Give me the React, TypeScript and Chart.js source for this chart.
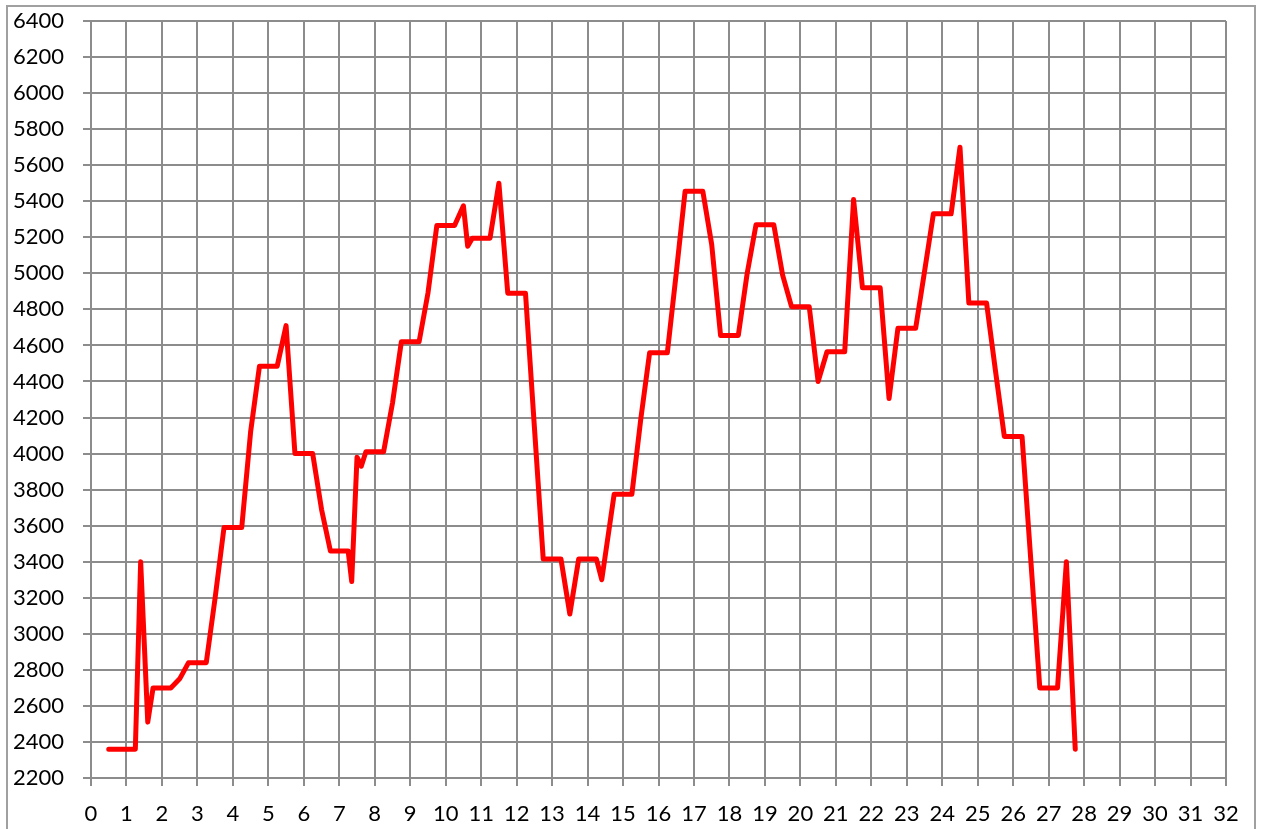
import React, { useEffect, useRef } from "react";
import { Chart, registerables } from "chart.js";

Chart.register(...registerables);

const xValues = [
  0.5, 1.25, 1.4, 1.6, 1.75, 2.25, 2.5, 2.75, 3.25, 3.5, 3.75, 4.25, 4.5, 4.75, 5.25, 5.5, 5.75, 6.25,
  6.5, 6.75, 7.25, 7.35, 7.5, 7.62, 7.75, 8.25, 8.5, 8.75, 9.25, 9.5, 9.75, 10.25, 10.5, 10.62, 10.75,
  11.25, 11.5, 11.75, 12.25, 12.5, 12.75, 13.25, 13.5, 13.75, 14.25, 14.4, 14.75, 15.25, 15.5, 15.75,
  16.25, 16.5, 16.75, 17.25, 17.5, 17.75, 18.25, 18.5, 18.75, 19.25, 19.5, 19.75, 20.25, 20.5, 20.75,
  21.25, 21.5, 21.75, 22.25, 22.5, 22.75, 23.25, 23.5, 23.75, 24.25, 24.5, 24.75, 25.25, 25.5, 25.75,
  26.25, 26.5, 26.75, 27.25, 27.5, 27.75,
];

const yValues = [
  2360, 2360, 3400, 2510, 2700, 2700, 2750, 2840, 2840, 3200, 3590, 3590, 4120, 4485, 4485, 4710, 4000, 4000,
  3690, 3460, 3460, 3290, 3980, 3930, 4010, 4010, 4280, 4620, 4620, 4890, 5265, 5265, 5375, 5150, 5195,
  5195, 5500, 4890, 4890, 4150, 3415, 3415, 3110, 3415, 3415, 3300, 3775, 3775, 4190, 4560,
  4560, 5000, 5455, 5455, 5160, 4655, 4655, 5000, 5270, 5270, 4990, 4815, 4815, 4400, 4565,
  4565, 5410, 4920, 4920, 4305, 4695, 4695, 5010, 5330, 5330, 5700, 4835, 4835, 4460, 4095,
  4095, 3400, 2700, 2700, 3400, 2360,
];

const xTicks = [
  0, 1, 2, 3, 4, 5, 6, 7, 8, 9, 10, 11, 12, 13, 14, 15, 16, 17, 18, 19, 20, 21, 22, 23, 24, 25, 26,
  27, 28, 29, 30, 31, 32,
];

const yTicks = [
  2200, 2400, 2600, 2800, 3000, 3200, 3400, 3600, 3800, 4000, 4200, 4400, 4600, 4800, 5000, 5200,
  5400, 5600, 5800, 6000, 6200, 6400,
];

const GRID = "#8c8c8c";
const FONT = { family: "Lato", size: 22 };

export default function App() {
  const ref = useRef<HTMLCanvasElement>(null);

  useEffect(() => {
    const chart = new Chart(ref.current!, {
      type: "scatter",
      data: {
        datasets: [
          {
            data: xValues.map((x, i) => ({ x, y: yValues[i] })),
            showLine: true,
            borderColor: "#ff0000",
            backgroundColor: "#ff0000",
            borderWidth: 5,
            pointRadius: 0,
            pointHoverRadius: 0,
            borderJoinStyle: "round",
            borderCapStyle: "round",
            tension: 0,
          },
        ],
      },
      options: {
        animation: false,
        responsive: false,
        devicePixelRatio: 1,
        layout: { padding: { top: 21, right: 35, left: 0, bottom: 0 } },
        plugins: { legend: { display: false }, tooltip: { enabled: false } },
        scales: {
          x: {
            type: "linear",
            min: 0,
            max: 32,
            afterBuildTicks: (s: any) => {
              s.ticks = xTicks.map((v) => ({ value: v }));
            },
            afterFit: (s: any) => {
              s.height = 51;
              s.paddingLeft = 0;
              s.paddingRight = 0;
            },
            ticks: {
              color: "#000",
              font: FONT,
              padding: 15,
              maxRotation: 0,
              autoSkip: false,
              callback: (v: any) => String(v),
            },
            grid: { color: GRID, lineWidth: 2, tickLength: 8 },
            border: { color: GRID, width: 2 },
          },
          y: {
            type: "linear",
            min: 2200,
            max: 6400,
            afterBuildTicks: (s: any) => {
              s.ticks = yTicks.map((v) => ({ value: v }));
            },
            afterFit: (s: any) => {
              s.width = 91;
              s.paddingTop = 0;
              s.paddingBottom = 0;
            },
            ticks: {
              color: "#000",
              font: FONT,
              padding: 19,
              autoSkip: false,
              callback: (v: any) => String(v),
            },
            grid: { color: GRID, lineWidth: 2, tickLength: 8 },
            border: { color: GRID, width: 2 },
          },
        },
      },
    } as any);
    return () => chart.destroy();
  }, []);

  return (
    <div
      style={{
        position: "fixed",
        left: 0,
        top: 0,
        width: 1261,
        height: 829,
        background: "#fff",
        overflow: "hidden",
      }}
    >
      <div
        style={{
          position: "absolute",
          left: 6,
          top: 5,
          width: 1246,
          height: 840,
          border: "2px solid #a0a0a0",
        }}
      />
      <canvas
        ref={ref}
        width={1261}
        height={829}
        style={{ position: "absolute", left: 0, top: 0, width: 1261, height: 829 }}
      />
    </div>
  );
}
